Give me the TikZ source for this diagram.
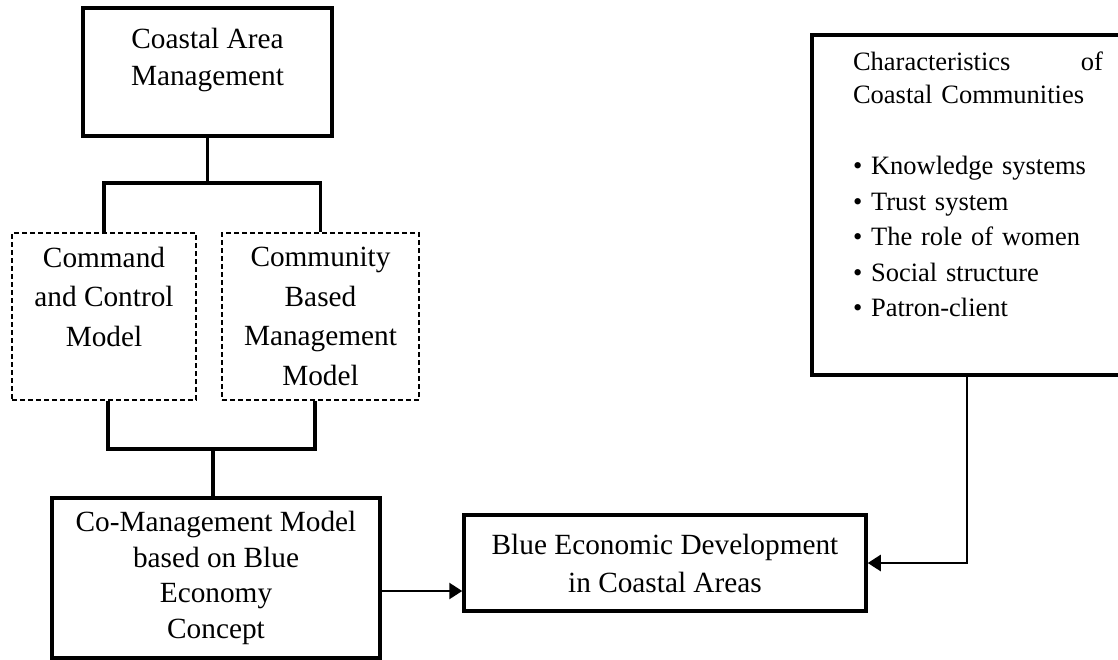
\documentclass[tikz,border=0pt]{standalone}
\usepackage{fontspec}
\setmainfont{Liberation Serif}
\usepackage{tikz}
\usetikzlibrary{arrows.meta}

\begin{document}
\begin{tikzpicture}[x=1pt,y=-1pt,
  box/.style={draw,line width=3.5pt,align=center,inner sep=0pt,font=\fontsize{29.3}{37}\selectfont},
  modelbox/.style={draw,line width=1.8pt,dash pattern=on 5pt off 3pt,align=center,inner sep=0pt,font=\fontsize{29.3}{39.5}\selectfont},
  link/.style={line width=3.5pt},
  flow/.style={line width=2.5pt,-{Triangle[length=13pt,width=16pt]}}]
\clip (0,0) rectangle (1118,659);

% management models
\node (cam) [box,minimum width=249pt,minimum height=128pt] at (207.5,72) {Coastal Area\\Management\\[-6pt]\mbox{}};
\node (cmd) [modelbox,minimum width=184pt,minimum height=167pt] at (104,316.5) {Command\\and Control\\Model\\\mbox{}};
\node (cbm) [modelbox,minimum width=197pt,minimum height=167pt] at (320.5,316.5) {Community\\Based\\Management\\Model};
\node (comgmt) [box,minimum width=328pt,minimum height=160pt,font=\fontsize{29.3}{35.7}\selectfont] at (216,578) {Co-Management Model\\based on Blue\\Economy\\Concept};

% outcome
\node (blue) [box,minimum width=402pt,minimum height=96pt,font=\fontsize{29.3}{38}\selectfont] at (665,563) {Blue Economic Development\\in Coastal Areas};

% community characteristics
\node (chars) [box,minimum width=332pt,minimum height=340pt,text width=250pt,align=left,font=\fontsize{26.5}{35.5}\selectfont] at (978,205)
  {Characteristics\hfill of\\[-2.5pt]Coastal Communities\\ \mbox{}\\
   \textbullet\ Knowledge systems\\
   \textbullet\ Trust system\\
   \textbullet\ The role of women\\
   \textbullet\ Social structure\\
   \textbullet\ Patron-client\\[5.5pt]\mbox{}};

% tree connectors
\coordinate (topfork) at (205,183);
\coordinate (lowfork) at (213,449);
\draw[link] (cam.south) -- (cam.south |- topfork);
\draw[link] (cmd.north) |- (topfork) -| (cbm.north);
\draw[link] ([xshift=4pt]cmd.south) |- (lowfork) -| ([xshift=-5.5pt]cbm.south);
\draw[link] (lowfork) -- (lowfork |- comgmt.north);

% arrows into the outcome
\coordinate (feed) at ([yshift=-13pt]comgmt.east);
\draw[flow] (feed) -- (feed -| blue.west);
\draw[flow] ([xshift=-11pt]chars.south) |- (blue.east);
\end{tikzpicture}
\end{document}
